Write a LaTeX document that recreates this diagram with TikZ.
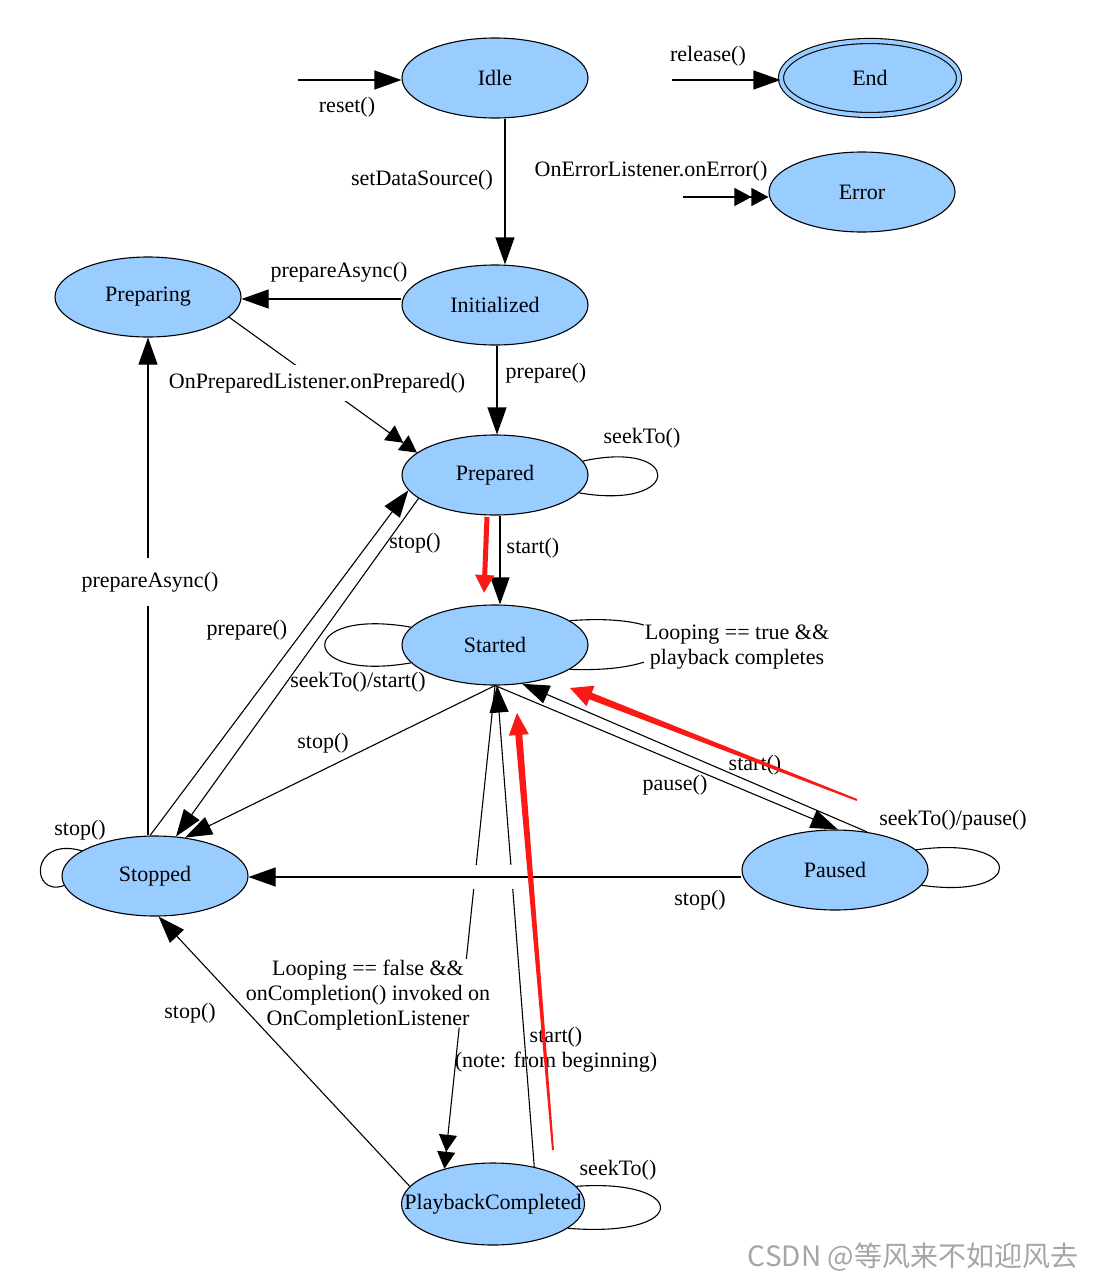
\documentclass[tikz,border=0pt]{standalone}
\usepackage{fontspec}
\setmainfont{Liberation Serif}
\newfontfamily\cjkfont{Noto Sans CJK SC}
\usetikzlibrary{arrows.meta,shapes.geometric,calc}

\definecolor{stateblue}{RGB}{153,204,255}
\definecolor{annotred}{RGB}{250,25,20}
\definecolor{markgray}{RGB}{165,165,165}

\tikzset{
  state/.style={ellipse, draw=black, line width=1.1pt, fill=stateblue,
                minimum width=186pt, minimum height=80pt, inner sep=0pt},
  trans/.style={line width=1.1pt, -{Triangle[length=27pt,width=19pt]}},
  trans2/.style={line width=1.1pt, -{Triangle[length=17pt,width=18pt]Triangle[length=17pt,width=18pt]}},
  loopline/.style={line width=1.1pt},
  lbl/.style={inner sep=1pt, align=center},
  lblbg/.style={lbl, fill=white, inner ysep=8pt},
  annot/.style={fill=annotred},
}

\begin{document}
\begin{tikzpicture}[x=1pt,y=-1pt,font=\fontsize{22}{25}\selectfont]
                \useasboundingbox (0,0) rectangle (1103,1282);

                % states
                \node (idle) at (495,78) [state] {Idle};
                \node (endnode) at (870,78) [state,double=stateblue,double distance=4pt,minimum width=178pt,minimum height=74pt] {End};
                \node (error) at (862,192) [state] {Error};
                \node (preparing) at (148,297) [state] {Preparing};
                \node (init) at (495,305) [state] {Initialized};
                \node (prepared) at (495,475) [state] {Prepared};
                \node (started) at (495,645) [state] {Started};
                \node (stopped) at (155,876) [state] {Stopped};
                \node (paused) at (835,870) [state] {Paused};
                \node (completed) at (493,1204) [state,minimum width=183pt,minimum height=82pt] {\makebox[0pt]{PlaybackCompleted}};

                \coordinate (resetin) at (298,80);
                \coordinate (releasein) at (672,80);
                \coordinate (errorin) at (683,197);

                % transitions
                \draw[trans] (resetin) -- (resetin -| idle.west);
                \draw[trans] (releasein) -- (releasein -| endnode.west);
                \draw[trans2] (errorin) -- (errorin -| error.west);
                \draw[trans] ([xshift=10pt]idle.south) -- ([xshift=10pt]init.north);
                \draw[trans] ([yshift=6pt]init.west) -- ([yshift=6pt]init.west -| preparing.east);
                \draw[trans] ([xshift=2pt]init.south) -- ([xshift=2pt]prepared.north);
                \draw[trans2] (preparing.-14) -- (prepared.164);
                \draw[loopline] (prepared.9) .. controls +(100,-22) and +(105,18) .. (prepared.-12);
                \draw[trans] ([xshift=5pt]prepared.south) -- ([xshift=5pt]started.north);
                \draw[trans] (prepared.197) -- (stopped.62);
                \draw[trans] (stopped.97) -- (prepared.190);
                \draw[trans] (stopped.north -| preparing.south) -- (preparing.south);
                \draw[loopline] (started.168) .. controls +(-115,-20) and +(-115,20) .. (started.192);
                \draw[loopline] (started.18) .. controls +(130,-10) and +(130,5) .. (started.-18);
                \draw[trans] (started.south) -- (stopped.52);
                \draw[trans] (started.south) -- (paused.86);
                \draw[trans] (paused.50) -- (started.305);
                \draw[loopline] (paused.14) .. controls +(110,-15) and +(105,15) .. (paused.-10);
                \draw[loopline] (stopped.161) .. controls +(-52,-15) and +(-34,12) .. (stopped.186);
                \draw[trans2] (started.south) -- (completed.144);
                % gap under the Looping == false label
                \draw[white,line width=8pt,shorten <=275pt,shorten >=142pt] (started.south) -- (completed.144);
                \draw[trans] (completed.42) -- ([xshift=2pt]started.south);
                % the two lines break where they cross stop()
                \draw[white,line width=24pt,shorten <=200pt,shorten >=200pt] ([yshift=-7pt]paused.west) -- ([yshift=-7pt]paused.west -| stopped.east);
                \draw[trans] ([yshift=-7pt]paused.west) -- ([yshift=-7pt]paused.west -| stopped.east);
                \draw[loopline] (completed.12) .. controls +(112,-8) and +(124,10) .. (completed.-18);
                \draw[trans] (completed.168) -- (stopped.-85);

                % labels
                \node (lreset) at (347,107) [lbl] {reset()};
                \node (lrelease) at (708,56) [lbl] {release()};
                \node (lerror) at (651,171) [lbl] {OnErrorListener.onError()};
                \node (lsource) at (422,180) [lbl] {setDataSource()};
                \node (lasync) at (339,272) [lbl] {prepareAsync()};
                \node (lprepare) at (546,373) [lbl] {prepare()};
                \node (lonprepared) at (317,383) [lblbg] {OnPreparedListener.onPrepared()};
                \node (lseek1) at (642,438) [lbl] {seekTo()};
                \node (lstart1) at (533,548) [lbl] {start()};
                \node (lstop1) at (415,543) [lbl] {stop()};
                \node (lasync2) at (150,582) [lblbg,inner ysep=14pt] {prepareAsync()};
                \node (lprepare2) at (247,630) [lbl] {prepare()};
                \node (lloop1) at (737,647) [lblbg,inner ysep=2pt] {Looping == true \&\&\\playback completes};
                \node (lseek2) at (358,682) [lbl] {seekTo()/start()};
                \node (lstop2) at (323,743) [lbl] {stop()};
                \node (lstart2) at (755,765) [lbl] {start()};
                \node (lpause) at (675,785) [lbl] {pause()};
                \node (lseek3) at (953,820) [lbl] {seekTo()/pause()};
                \node (lstop3) at (80,830) [lbl] {stop()};
                \node (lstop4) at (700,900) [lbl] {stop()};
                \node (lloop2) at (368,995) [lbl] {Looping == false \&\&\\onCompletion() invoked on\\OnCompletionListener};
                \node (lstop5) at (190,1013) [lbl] {stop()};
                \node (lstart3) at (556,1050) [lbl] {start()\\(note: from beginning)};
                \node (lseek4) at (618,1170) [lbl] {seekTo()};

                % red marks
                \coordinate (r1s) at (487,517);
                \coordinate (r1t) at (484,593);
                \draw[annotred,line width=5pt,-{Triangle[length=18pt,width=18pt]}] (r1s) -- (r1t);

                \coordinate (r2s) at (857,800);
                \coordinate (r2t) at (570,688);
                \coordinate (r2h) at ($(r2t)!22pt!(r2s)$);
                \fill[annot] ($(r2s)!1pt!90:(r2t)$) -- ($(r2h)!3.5pt!-90:(r2s)$) -- ($(r2h)!11pt!-90:(r2s)$) -- (r2t)
                      -- ($(r2h)!11pt!90:(r2s)$) -- ($(r2h)!3.5pt!90:(r2s)$) -- ($(r2s)!1pt!-90:(r2t)$) -- cycle;

                \coordinate (r3s) at (553,1150);
                \coordinate (r3t) at (517,713);
                \coordinate (r3h) at ($(r3t)!22pt!(r3s)$);
                \fill[annot] ($(r3s)!1pt!90:(r3t)$) -- ($(r3h)!3.5pt!-90:(r3s)$) -- ($(r3h)!10pt!-90:(r3s)$) -- (r3t)
                      -- ($(r3h)!10pt!90:(r3s)$) -- ($(r3h)!3.5pt!90:(r3s)$) -- ($(r3s)!1pt!-90:(r3t)$) -- cycle;

                \node (mark) at (913,1257) [font=\cjkfont\fontsize{28}{30}\selectfont,text=markgray] {CSDN @等风来不如迎风去};
            \end{tikzpicture}
\end{document}
